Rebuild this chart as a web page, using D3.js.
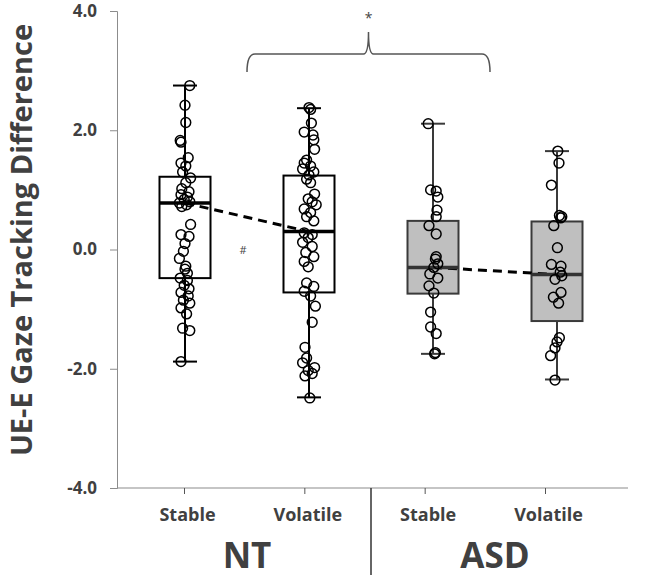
<!DOCTYPE html>
<html>
<head>
<meta charset="utf-8">
<script src="https://cdn.jsdelivr.net/npm/d3@7"></script>
<style>
  body { margin: 0; background: #fff; }
  text { font-family: "Open Sans", sans-serif; }
</style>
</head>
<body>
<svg id="chart" width="645" height="578"></svg>
<script>
// categories
var groups = ["NT", "ASD"];
var conditions = ["Stable", "Volatile"];
var cats = ["NT-Stable", "NT-Volatile", "ASD-Stable", "ASD-Volatile"];
var yTicks = [-4, -2, 0, 2, 4];

// box stats: low whisker, q1, median, q3, high whisker
var whiskLo = [-1.88, -2.48, -1.75, -2.18];
var q1      = [-0.48, -0.72, -0.74, -1.20];
var median  = [ 0.78,  0.30, -0.30, -0.42];
var q3      = [ 1.22,  1.24,  0.48,  0.47];
var whiskHi = [ 2.75,  2.37,  2.11,  1.65];

// individual points (value) and their horizontal jitter (-1..1)
var ntStable = [2.75, 2.42, 2.13, 1.83, 1.80, 1.54, 1.45, 1.40, 1.30, 1.20, 1.12, 1.02, 0.97, 0.92, 0.88, 0.84, 0.80, 0.78, 0.75, 0.72,
  0.42, 0.25, 0.22, 0.10, -0.03, -0.15, -0.28, -0.33, -0.40, -0.48, -0.52, -0.60, -0.66, -0.72, -0.78, -0.85, -0.90, -0.98, -1.08, -1.32, -1.36, -1.88];
var ntStableJit = [0.6, 0, 0.1, -0.6, -0.5, 0.4, -0.5, 0.1, -0.3, 0.7, 0.1, -0.4, 0.5, -0.5, 0.3, -0.1, 0.6, -0.7, 0.2, -0.4,
  0.7, -0.5, 0.5, 0, -0.2, -0.7, 0.1, 0, 0.3, -0.6, 0.3, -0.1, 0.5, -0.5, 0.4, -0.2, 0.6, -0.5, 0.2, -0.3, 0.6, -0.5];

var ntVolatile = [2.38, 2.35, 2.12, 1.97, 1.92, 1.84, 1.68, 1.50, 1.45, 1.40, 1.35, 1.30, 1.25, 1.18, 1.12, 0.93, 0.85, 0.80, 0.75, 0.68,
  0.62, 0.55, 0.48, 0.28, 0.25, 0.20, 0.12, 0.05, -0.05, -0.12, -0.20, -0.29, -0.56, -0.62, -0.70, -0.78, -0.95, -1.22, -1.64, -1.82,
  -1.90, -1.98, -2.03, -2.08, -2.12, -2.49];
var ntVolatileJit = [0, 0.2, 0.3, -0.6, 0.5, 0.6, 0.7, -0.3, -0.6, 0.2, -0.8, 0.6, 0, -0.3, 0.2, 0.7, -0.1, 0.4, 0.9, -0.6,
  0.2, -0.3, 0.6, -0.6, 0.4, -0.1, -0.8, 0.4, -0.4, 0.6, -0.6, -0.1, -0.3, 0.6, -0.6, 0.2, 0.8, 0.4, -0.5, -0.3,
  -0.8, 0.7, -0.1, 0.4, -0.5, 0.1];

var asdStable = [2.11, 1.00, 0.98, 0.88, 0.66, 0.55, 0.40, 0.26, -0.12, -0.16, -0.24, -0.30, -0.41, -0.48, -0.61, -0.73, -1.05, -1.30, -1.41, -1.73, -1.75];
var asdStableJit = [-0.6, -0.3, 0.4, 0.6, 0.5, 0.4, -0.5, 0.4, 0.4, 0.3, 0.6, 0.1, -0.4, 0.6, -0.5, 0.1, -0.3, -0.3, 0.4, 0.3, 0.2];

var asdVolatile = [1.65, 1.45, 1.08, 0.57, 0.55, 0.53, 0.40, 0.03, -0.25, -0.28, -0.38, -0.44, -0.50, -0.72, -0.80, -0.90, -1.48, -1.55, -1.65, -1.78, -2.19];
var asdVolatileJit = [0.1, 0.25, -0.7, 0.3, 0.6, 0.45, -0.4, 0.05, -0.7, 0.5, 0.4, 0.6, -0.25, 0.5, -0.45, 0.2, 0.3, 0, -0.25, -0.8, -0.25];

var pointVals = [ntStable, ntVolatile, asdStable, asdVolatile];
var pointJits = [ntStableJit, ntVolatileJit, asdStableJit, asdVolatileJit];

var svg = d3.select("#chart");
var axisCol = "#8c8c8c", textCol = "#404040";

var y = d3.scaleLinear().domain([-4, 4]).range([488, 11]);
// boxes and tick marks do not sit at the same spots in the original
var xBox = d3.scalePoint().domain(cats).range([185, 557]);
var xTick = d3.scalePoint().domain(cats).range([184, 545]);
var jit = d3.scaleLinear().domain([-1, 1]).range([-8, 8]);
var boxHalf = 25.5, capHalf = 12;

// y axis
var yAxis = svg.append("g")
    .attr("transform", "translate(117,0)")
    .call(d3.axisLeft(y).tickValues(yTicks).tickSize(7).tickPadding(13)
      .tickFormat(function(d){ return d.toFixed(1); }));
yAxis.select(".domain").attr("stroke", axisCol);
yAxis.selectAll(".tick line").attr("stroke", axisCol);
yAxis.selectAll(".tick text")
    .attr("fill", textCol).style("font-size", "17px").style("font-weight", "700")
    .style("font-family", "'Open Sans', sans-serif");

// x axis
svg.append("line").attr("x1", 117).attr("x2", 628).attr("y1", y(-4)).attr("y2", y(-4))
    .attr("stroke", axisCol).attr("stroke-width", 1.2);
var xAxis = svg.append("g")
    .attr("transform", "translate(0," + y(-4) + ")")
    .call(d3.axisBottom(xTick).tickSize(6).tickPadding(14)
      .tickFormat(function(d){ return d.split("-")[1]; }));
xAxis.select(".domain").remove();
xAxis.selectAll(".tick line").attr("stroke", "#555");
xAxis.selectAll(".tick text")
    .attr("fill", textCol).attr("dx", 3).style("font-size", "18px").style("font-weight", "700")
    .style("font-family", "'Open Sans', sans-serif");

// separator between groups
var sepX = (xBox(cats[1]) + xBox(cats[2])) / 2;
svg.append("line").attr("x1", sepX).attr("x2", sepX).attr("y1", y(-4)).attr("y2", 575)
    .attr("stroke", "#333").attr("stroke-width", 1.5);

// group labels
groups.forEach(function(g, i){
  var cx = (xBox(cats[i*2]) + xBox(cats[i*2+1])) / 2;
  svg.append("text").attr("x", cx).attr("y", 568).attr("text-anchor", "middle")
    .attr("fill", textCol).style("font-size", "35px").style("font-weight", "700")
    .text(g);
});

// y title
svg.append("text")
    .attr("transform", "translate(32," + 240 + ") rotate(-90)")
    .attr("text-anchor", "middle").attr("fill", textCol)
    .style("font-size", "29px").style("font-weight", "700")
    .text("UE-E Gaze Tracking Difference");

// boxes
cats.forEach(function(c, i){
  var asd = i >= 2;
  var stroke = asd ? "#3a3a3a" : "#000";
  var cx = xBox(c);
  var g = svg.append("g");
  g.append("line").attr("x1", cx).attr("x2", cx).attr("y1", y(whiskHi[i])).attr("y2", y(whiskLo[i]))
    .attr("stroke", stroke).attr("stroke-width", 2);
  [whiskHi[i], whiskLo[i]].forEach(function(v){
    g.append("line").attr("x1", cx - capHalf).attr("x2", cx + capHalf).attr("y1", y(v)).attr("y2", y(v))
      .attr("stroke", stroke).attr("stroke-width", 2);
  });
  g.append("rect").attr("x", cx - boxHalf).attr("width", boxHalf * 2)
    .attr("y", y(q3[i])).attr("height", y(q1[i]) - y(q3[i]))
    .attr("fill", asd ? "#bfbfbf" : "#fff").attr("stroke", stroke).attr("stroke-width", 2);
});

// dashed lines between medians
[0, 2].forEach(function(i){
  svg.append("line")
    .attr("x1", xBox(cats[i])).attr("y1", y(median[i]))
    .attr("x2", xBox(cats[i+1])).attr("y2", y(median[i+1]))
    .attr("stroke", "#000").attr("stroke-width", 3).attr("stroke-dasharray", "9,6");
});

// medians
cats.forEach(function(c, i){
  svg.append("line").attr("x1", xBox(c) - boxHalf).attr("x2", xBox(c) + boxHalf)
    .attr("y1", y(median[i])).attr("y2", y(median[i]))
    .attr("stroke", i >= 2 ? "#333" : "#000").attr("stroke-width", 3.5);
});

// points
cats.forEach(function(c, i){
  svg.append("g").selectAll("circle")
    .data(pointVals[i].map(function(v, k){ return {v: v, j: pointJits[i][k]}; }))
    .enter().append("circle")
    .attr("cx", function(d){ return xBox(c) + jit(d.j); })
    .attr("cy", function(d){ return y(d.v); })
    .attr("r", 4.9)
    .attr("fill", "none").attr("stroke", "#000").attr("stroke-width", 1.5);
});

// significance brace
var bx0 = (xBox(cats[0]) + xBox(cats[1])) / 2;
var bx1 = (xBox(cats[2]) + xBox(cats[3])) / 2 - 5;
var bm = (bx0 + bx1) / 2, byTop = 32, byMid = 54, byEnd = 72;
var brace = d3.path();
brace.moveTo(bx0, byEnd);
brace.quadraticCurveTo(bx0, byMid, bx0 + 8, byMid);
brace.lineTo(bm - 5, byMid);
brace.quadraticCurveTo(bm, byMid, bm, byTop);
brace.quadraticCurveTo(bm, byMid, bm + 5, byMid);
brace.lineTo(bx1 - 8, byMid);
brace.quadraticCurveTo(bx1, byMid, bx1, byEnd);
svg.append("path").attr("d", brace.toString()).attr("fill", "none")
    .attr("stroke", "#555").attr("stroke-width", 1.5);
svg.append("text").attr("x", bm).attr("y", 23).attr("text-anchor", "middle")
    .attr("fill", "#444").style("font-size", "14px").text("*");

// trend mark between NT conditions
svg.append("text").attr("x", 243).attr("y", 254).attr("text-anchor", "middle")
    .attr("fill", "#444").style("font-size", "11px").text("#");
</script>
</body>
</html>
